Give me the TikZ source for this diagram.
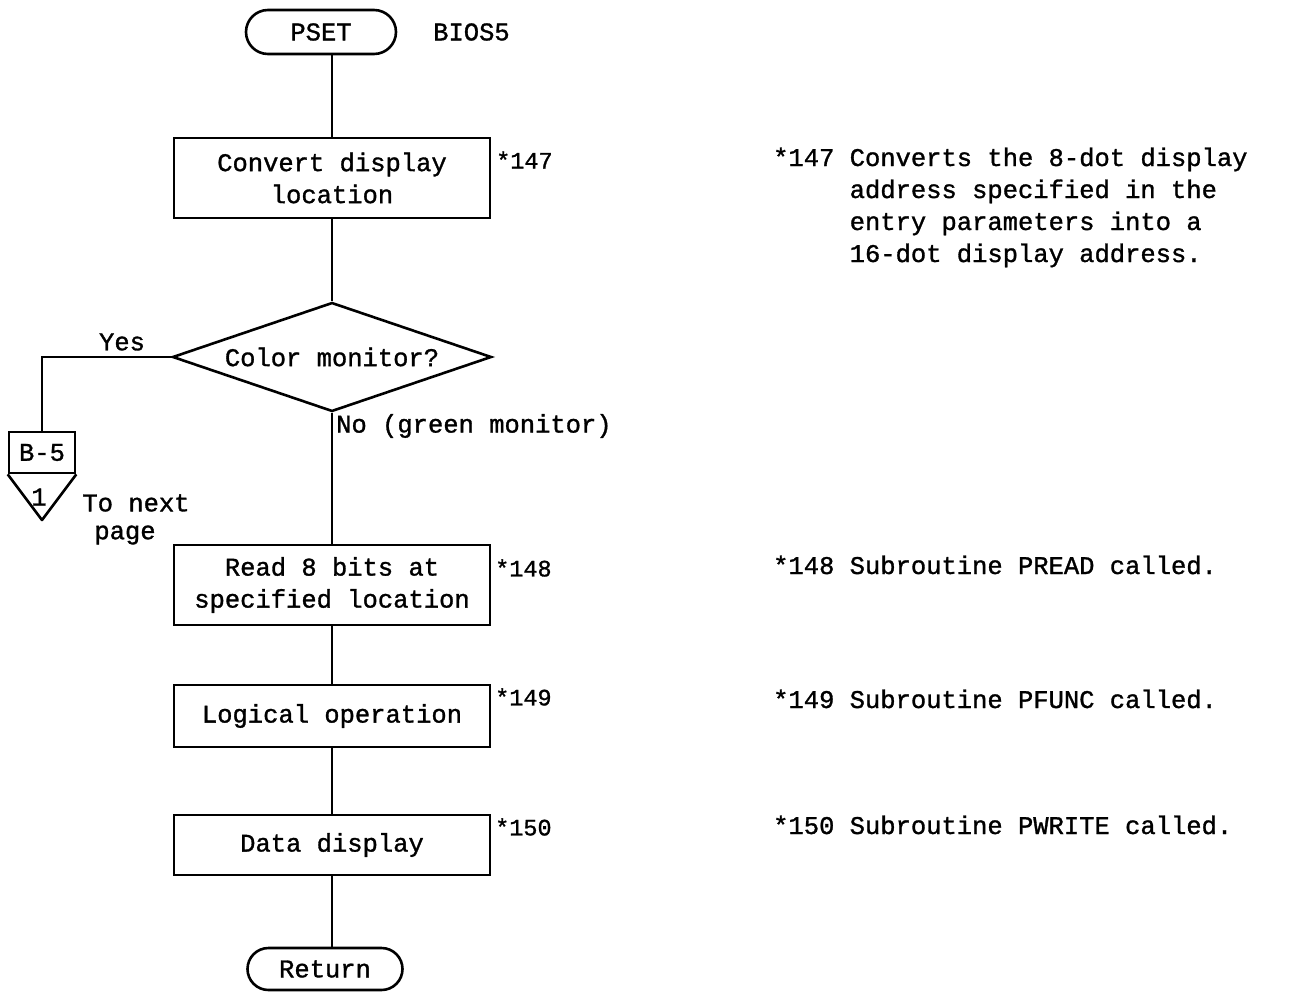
\documentclass[tikz,border=0pt]{standalone}
\usepackage{fontspec}
\setmainfont{Liberation Mono}[FakeBold=1.2]
\usetikzlibrary{shapes.geometric,shapes.misc}

\begin{document}
\begin{tikzpicture}[x=1pt,y=-1pt,
  every node/.style={font=\fontsize{25.5}{32}\selectfont},
  proc/.style={draw, line width=2.8pt, minimum width=316pt, inner sep=0pt, align=center},
  term/.style={draw, rounded rectangle, line width=2.6pt, inner sep=0pt},
  flow/.style={line width=2.2pt},
  note/.style={inner sep=0pt, anchor=base west, align=left},
  tag/.style={inner sep=0pt, anchor=west, font=\fontsize{23.5}{28}\selectfont},
  plain/.style={inner sep=0pt}]
\useasboundingbox (0,0) rectangle (1295,992);

% flowchart symbols
\node[term, minimum width=150pt, minimum height=44pt] (pset) at (321,32) {PSET};
\node[plain, anchor=west] (bios) at (433,32) {BIOS5};

\node[proc, minimum height=80pt] (conv) at (332,178) {Convert display\\location};
\node[tag] (t147) at (496,160) {*147};

\node[draw, diamond, aspect=2.9, line width=2.6pt, inner sep=0pt,
      minimum width=319pt, minimum height=109pt] (color) at (332,357) {Color monitor?};

\node[proc, minimum height=80pt] (read) at (332,585) {Read 8 bits at\\specified location};
\node[tag] (t148) at (495,568) {*148};

\node[proc, minimum height=62pt] (logic) at (332,716) {Logical operation};
\node[tag] (t149) at (495,697) {*149};

\node[proc, minimum height=60pt] (data) at (332,845) {Data display};
\node[tag] (t150) at (495,827) {*150};

\node[term, minimum width=155pt, minimum height=42pt] (ret) at (325,969) {Return};

% off-page connector
\node[draw, line width=2.6pt, minimum width=66pt, minimum height=41pt, inner sep=0pt] (pg) at (42,452.5) {B-5};
\coordinate (pgtip) at (42,520);
\draw[line width=2.6pt, line join=round] (pg.south west) -- (pgtip) -- (pg.south east);
\node[plain] (pgnum) at (39,497) {1};
\node[plain] (next1) at (136,503) {To next};
\node[plain] (next2) at (125,535) {page};

% connectors
\draw[flow] (conv.north |- pset.south) -- (conv.north);
\draw[flow] (conv.south) -- (color.north);
\draw[flow] (color.south) -- (read.north);
\draw[flow] (read.south) -- (logic.north);
\draw[flow] (logic.south) -- (data.north);
\draw[flow] (data.south) -- (data.south |- ret.north);
\draw[flow] (color.west) -| (pg.north);

% branch labels
\node[plain] (yes) at (122,342) {Yes};
\node[plain, anchor=west] (no) at (336,426) {No (green monitor)};

% notes (base of a multi-line note is its last baseline)
\node[note] (n147) at (773,262) {*147 Converts the 8-dot display\\
\phantom{*147 }address specified in the\\
\phantom{*147 }entry parameters into a\\
\phantom{*147 }16-dot display address.};
\node[note] (n148) at (773,574) {*148 Subroutine PREAD called.};
\node[note] (n149) at (773,708) {*149 Subroutine PFUNC called.};
\node[note] (n150) at (773,834) {*150 Subroutine PWRITE called.};
\end{tikzpicture}
\end{document}
